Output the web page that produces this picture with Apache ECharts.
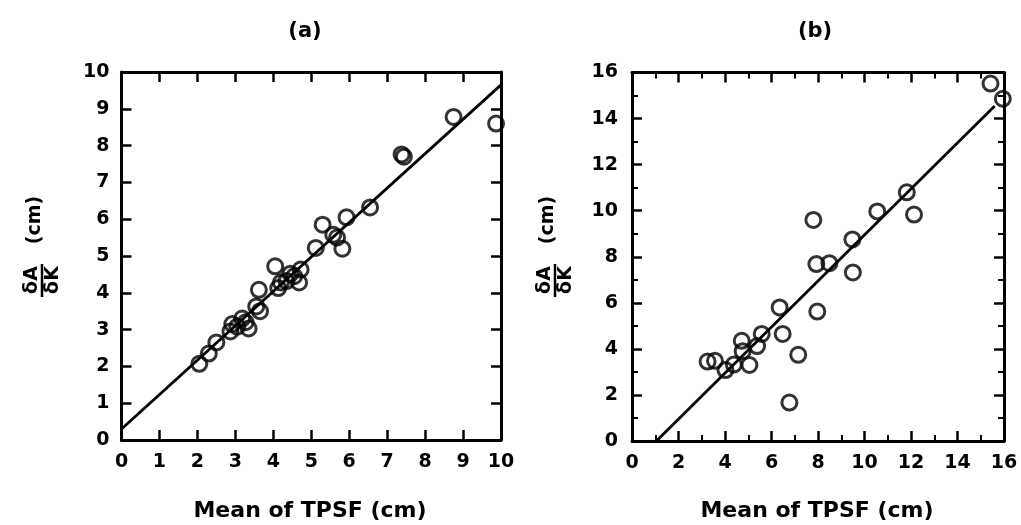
<!DOCTYPE html>
<html>
<head>
<meta charset="utf-8">
<script src="https://cdn.jsdelivr.net/npm/echarts@6/dist/echarts.min.js"></script>
<style>
html, body { margin: 0; padding: 0; background: #fff; }
#chart { width: 1021px; height: 525px; }
</style>
</head>
<body>
<div id="chart"></div>
<script>
// Panel (a): measured points [mean of TPSF, dA/dK] and least-squares fit
const pointsA = [
  [2.05, 2.07], [2.3, 2.35], [2.5, 2.65], [2.87, 2.95], [2.92, 3.15],
  [3.05, 3.08], [3.18, 3.3], [3.27, 3.2], [3.35, 3.03], [3.55, 3.63],
  [3.65, 3.5], [3.62, 4.08], [4.05, 4.72], [4.13, 4.13], [4.2, 4.28],
  [4.35, 4.32], [4.45, 4.52], [4.55, 4.45], [4.68, 4.28], [4.72, 4.63],
  [5.12, 5.22], [5.3, 5.85], [5.58, 5.58], [5.68, 5.5], [5.82, 5.2],
  [5.93, 6.05], [6.55, 6.32], [7.38, 7.76], [7.44, 7.7], [8.75, 8.78],
  [9.87, 8.6]
];
const fitA = [[0, 0.3], [10, 9.65]];

// Panel (b): measured points and fit
const pointsB = [
  [3.25, 3.45], [3.57, 3.48], [4.02, 3.08], [4.38, 3.32], [4.72, 4.35],
  [4.76, 3.9], [5.05, 3.3], [5.38, 4.12], [5.58, 4.65], [6.35, 5.8],
  [6.48, 4.65], [6.77, 1.67], [7.15, 3.74], [7.8, 9.6], [7.93, 7.68],
  [7.97, 5.62], [8.49, 7.72], [9.48, 8.75], [9.5, 7.32], [10.55, 9.97],
  [11.82, 10.8], [12.13, 9.83], [15.42, 15.52], [15.95, 14.86]
];
const fitB = [[1.05, 0], [15.6, 14.55]];

// Axis ranges: [min, max, label interval, minor ticks per interval]
const rangeA = [0, 10, 1, 0];
const rangeB = [0, 16, 2, 2];

const panelTitles = ['(a)', '(b)'];
const xName = 'Mean of TPSF (cm)';

const FONT = 'DejaVu Sans';

function makeAxis(gridIndex, position, range, showLabels, margin) {
  return {
    type: 'value',
    gridIndex: gridIndex,
    position: position,
    min: range[0],
    max: range[1],
    interval: range[2],
    axisLine: { show: true, onZero: false, lineStyle: { color: '#000', width: 3 } },
    axisTick: { show: true, inside: true, length: 10, lineStyle: { color: '#000', width: 2.5 } },
    minorTick: {
      show: range[3] > 0, splitNumber: range[3] || 5, length: 6,
      lineStyle: { color: '#000', width: 2 }
    },
    splitLine: { show: false },
    minorSplitLine: { show: false },
    axisLabel: {
      show: showLabels, color: '#000', fontFamily: FONT, fontWeight: 'bold',
      fontSize: 19, margin: margin, showMinLabel: true, showMaxLabel: true
    }
  };
}

function scatter(data, xi, yi) {
  return {
    type: 'scatter', data: data, xAxisIndex: xi, yAxisIndex: yi,
    symbol: 'circle', symbolSize: 15, clip: false, silent: true,
    itemStyle: { color: 'rgba(0,0,0,0)', borderColor: '#000', borderWidth: 3 }
  };
}

function fitLine(data, xi, yi) {
  return {
    type: 'line', data: data, xAxisIndex: xi, yAxisIndex: yi,
    symbol: 'none', silent: true, clip: true,
    lineStyle: { color: '#000', width: 2.8 }
  };
}

// Rotated y-axis title: fraction dA/dK followed by (cm)
function yTitle(barX) {
  const txt = (s, x, y) => ({
    type: 'text', x: x, y: y, rotation: Math.PI / 2, silent: true,
    style: { text: s, fill: '#000', font: 'bold 19px ' + FONT, align: 'center', verticalAlign: 'middle' }
  });
  return [
    txt('δA', barX - 10, 280),
    txt('δK', barX + 11, 280),
    { type: 'line', silent: true, shape: { x1: barX, y1: 264, x2: barX, y2: 297 },
      style: { stroke: '#000', lineWidth: 2.5 } },
    txt('(cm)', barX - 7, 220)
  ];
}

function textAt(s, x, y, size) {
  return {
    type: 'text', x: x, y: y, silent: true,
    style: { text: s, fill: '#000', font: 'bold ' + size + 'px ' + FONT, align: 'center', verticalAlign: 'middle' }
  };
}

const option = {
  animation: false,
  backgroundColor: '#fff',
  grid: [
    { left: 121.5, top: 72, width: 379.5, height: 368 },
    { left: 632, top: 72.5, width: 372, height: 368.5 }
  ],
  xAxis: [
    makeAxis(0, 'bottom', rangeA, true, 13),
    makeAxis(0, 'top', rangeA, false, 8),
    makeAxis(1, 'bottom', rangeB, true, 13),
    makeAxis(1, 'top', rangeB, false, 8)
  ],
  yAxis: [
    makeAxis(0, 'left', rangeA, true, 12),
    makeAxis(0, 'right', rangeA, false, 8),
    makeAxis(1, 'left', rangeB, true, 14),
    makeAxis(1, 'right', rangeB, false, 8)
  ],
  series: [
    fitLine(fitA, 0, 0),
    scatter(pointsA, 0, 0),
    fitLine(fitB, 2, 2),
    scatter(pointsB, 2, 2)
  ],
  graphic: [
    textAt(panelTitles[0], 305, 32, 21),
    textAt(panelTitles[1], 815, 32, 21),
    textAt(xName, 310, 511, 22),
    textAt(xName, 817, 511, 22)
  ].concat(yTitle(42), yTitle(555))
};

const chart = echarts.init(document.getElementById('chart'), null, { renderer: 'canvas' });
chart.setOption(option);
</script>
</body>
</html>
